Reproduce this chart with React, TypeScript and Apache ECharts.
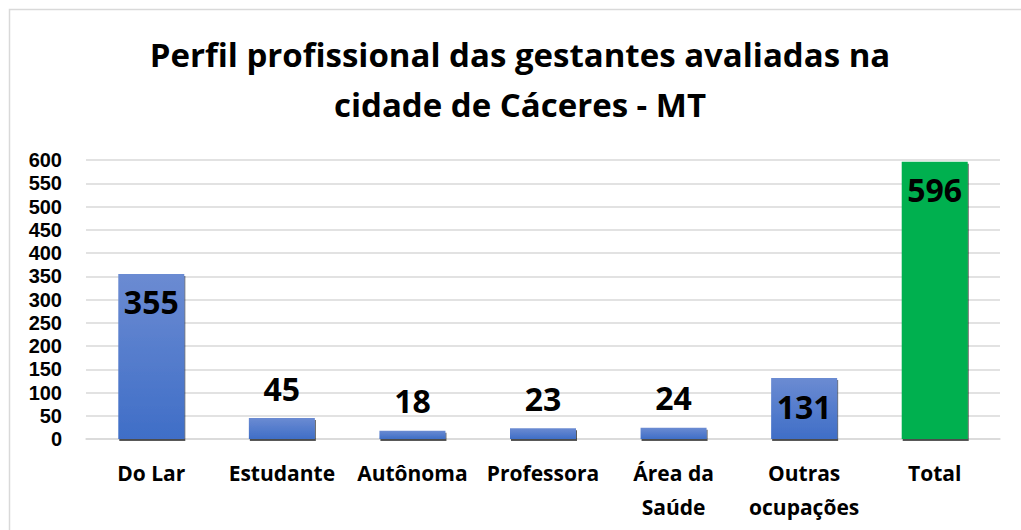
import React, { useEffect, useRef } from "react";
import * as echarts from "echarts";

const categories = ["Do Lar", "Estudante", "Autônoma", "Professora", "Área da\nSaúde", "Outras\nocupações", "Total"];
const values = [355, 45, 18, 23, 24, 131, 596];
const labelInside = [true, false, false, false, false, true, true];
const isTotal = [false, false, false, false, false, false, true];
const yTicks = { min: 0, max: 600, interval: 50 };
const titleText = "Perfil profissional das gestantes avaliadas na\ncidade de Cáceres - MT";

const FONT = "'Open Sans', 'Noto Sans', sans-serif";

export default function App() {
  const ref = useRef<HTMLDivElement>(null);
  useEffect(() => {
    if (!ref.current) return;
    const chart = echarts.init(ref.current, null, { renderer: "svg" });
    const blue = new echarts.graphic.LinearGradient(0, 0, 0, 1, [
      { offset: 0, color: "#6B8BD2" },
      { offset: 1, color: "#3F6EC7" },
    ]);
    chart.setOption({
      animation: false,
      backgroundColor: "#ffffff",
      graphic: [
        {
          type: "rect",
          shape: { x: 9.5, y: 9.5, width: 1100, height: 700 },
          style: { fill: "none", stroke: "#d9d9d9", lineWidth: 1.5 },
          silent: true,
        },
      ],
      title: {
        text: titleText,
        left: 520,
        textAlign: "center",
        top: 29,
        padding: 0,
        textStyle: {
          fontFamily: FONT,
          fontWeight: "bold",
          fontSize: 33,
          lineHeight: 50,
          color: "#000",
        },
      },
      grid: { left: 86, right: 21, top: 160, bottom: 91, containLabel: false },
      xAxis: {
        type: "category",
        data: categories,
        axisLine: { show: true, lineStyle: { color: "#d9d9d9", width: 1.5 } },
        axisTick: { show: false },
        axisLabel: {
          interval: 0,
          margin: 17,
          fontFamily: FONT,
          fontWeight: "bold",
          fontSize: 21,
          lineHeight: 34,
          color: "#000",
        },
      },
      yAxis: {
        type: "value",
        min: yTicks.min,
        max: yTicks.max,
        interval: yTicks.interval,
        axisLine: { show: false },
        axisTick: { show: false },
        splitLine: { lineStyle: { color: "#d9d9d9", width: 1.5 } },
        axisLabel: {
          margin: 24,
          fontFamily: "'Liberation Sans', Arial, sans-serif",
          fontWeight: "bold",
          fontSize: 20,
          lineHeight: 20,
          color: "#000",
        },
      },
      series: [
        {
          type: "bar",
          barWidth: 66,
          data: values.map((v, i) => ({
            value: v,
            itemStyle: {
              color: isTotal[i] ? "#00B050" : blue,
              shadowColor: "rgba(0,0,0,0.65)",
              shadowOffsetX: 1,
              shadowOffsetY: 2,
              shadowBlur: 1,
            },
            label: {
              show: true,
              position: labelInside[i] ? "insideTop" : "top",
              distance: labelInside[i] ? 12 : 14,
            },
          })),
          label: {
            fontFamily: FONT,
            fontWeight: "bold",
            fontSize: 32,
            lineHeight: 32,
            color: "#000",
          },
        },
      ],
    });
    return () => chart.dispose();
  }, []);
  return (
    <div
      ref={ref}
      style={{ position: "absolute", left: 0, top: 0, width: 1021, height: 530 }}
    />
  );
}
